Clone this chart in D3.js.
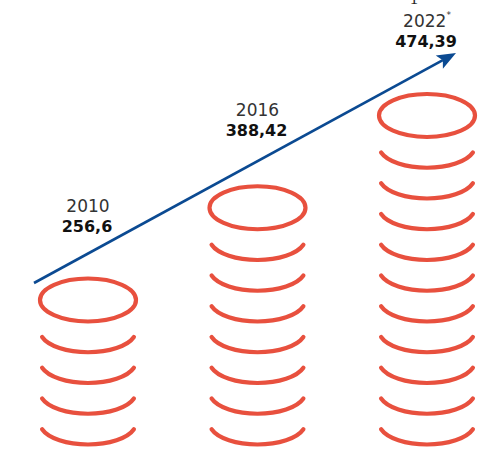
<!DOCTYPE html>
<html>
<head>
<meta charset="utf-8">
<script src="https://cdn.jsdelivr.net/npm/d3@7"></script>
<style>
  html, body { margin: 0; padding: 0; background: #fff; }
  svg { display: block; }
</style>
</head>
<body>
<svg id="chart" width="503" height="449"></svg>
<script>
// ---- data ----
const years = ["2010", "2016", "2022"];
const values = ["256,6", "388,42", "474,39"];
const coins = [5, 8, 11];
const notes = ["", "", "*"];

// ---- layout ----
const svg = d3.select("#chart");
const red = "#e8503e", blue = "#0b4a92";
const rx = 48, ry = 21.5, sw = 4.2;
const theta = 17 * Math.PI / 180;

const x = d3.scalePoint().domain(years).range([88, 427]);
const y = d3.scaleLinear().domain([0, 10]).range([423, 115.5]);

// partial glyph cut off at top (as in the original)
svg.append("text").attr("x", 414).attr("y", 4).attr("text-anchor", "middle")
  .attr("font-family", "Liberation Serif").attr("font-size", 16).attr("fill", "#222").text("1");

// coin stacks
years.forEach((yr, k) => {
  const cx = x(yr);
  const g = svg.append("g");
  d3.range(coins[k]).forEach(i => {
    const cy = y(i);
    if (i === coins[k] - 1) {
      g.append("ellipse").attr("cx", cx).attr("cy", cy).attr("rx", rx).attr("ry", ry)
        .attr("fill", "none").attr("stroke", red).attr("stroke-width", sw);
    } else {
      const x0 = cx - rx * Math.cos(theta), x1 = cx + rx * Math.cos(theta);
      const yy = cy + ry * Math.sin(theta);
      g.append("path")
        .attr("d", `M${x0},${yy} A${rx},${ry} 0 0 0 ${x1},${yy}`)
        .attr("fill", "none").attr("stroke", red).attr("stroke-width", sw)
        .attr("stroke-linecap", "round");
    }
  });
});

// trend arrow
const a0 = [34, 283], a1 = [456, 53];
const ang = Math.atan2(a1[1] - a0[1], a1[0] - a0[0]);
const headL = 19, headW = 7.5, notch = 4;
const bx = a1[0] - headL * Math.cos(ang), by = a1[1] - headL * Math.sin(ang);
svg.append("line")
  .attr("x1", a0[0]).attr("y1", a0[1])
  .attr("x2", bx + notch * Math.cos(ang)).attr("y2", by + notch * Math.sin(ang))
  .attr("stroke", blue).attr("stroke-width", 2.6);
const px = -Math.sin(ang), py = Math.cos(ang);
const head = [
  [a1[0], a1[1]],
  [bx + px * headW, by + py * headW],
  [bx + notch * Math.cos(ang), by + notch * Math.sin(ang)],
  [bx - px * headW, by - py * headW]
];
svg.append("path").attr("d", "M" + head.map(p => p.join(",")).join("L") + "Z")
  .attr("fill", blue);

// labels
const nudge = [0, -4, -1];
years.forEach((yr, k) => {
  const cx = x(yr);
  const base = y(coins[k] - 1) - 68 + nudge[k];
  const t = svg.append("text").attr("x", cx).attr("y", base - 20)
    .attr("text-anchor", "middle").attr("font-family", "DejaVu Sans")
    .attr("font-size", 17).attr("fill", "#333");
  t.append("tspan").text(yr);
  if (notes[k]) t.append("tspan").attr("font-size", 9).attr("dy", -9).text(notes[k]);
  svg.append("text").attr("x", cx - 1).attr("y", base)
    .attr("text-anchor", "middle").attr("font-family", "DejaVu Sans")
    .attr("font-weight", "bold").attr("font-size", 16).attr("fill", "#111")
    .text(values[k]);
});
</script>
</body>
</html>
